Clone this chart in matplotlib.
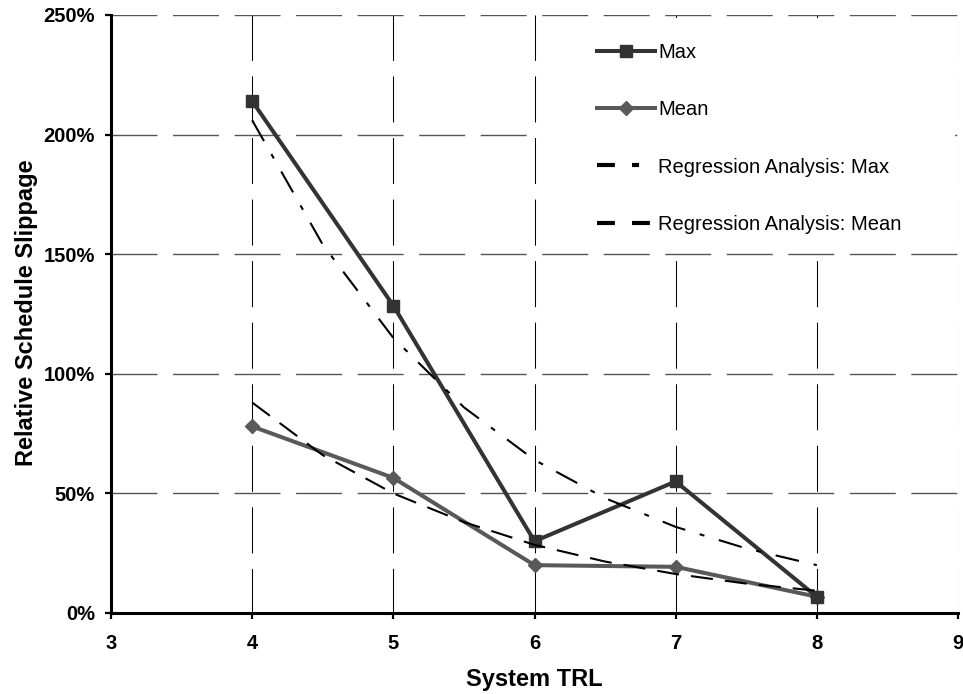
import matplotlib
matplotlib.use("Agg")
import matplotlib.pyplot as plt
from matplotlib.ticker import FuncFormatter
from matplotlib.lines import Line2D
from matplotlib.patches import Rectangle

plt.rcParams['font.family'] = ['Liberation Sans', 'DejaVu Sans']

trl = [4, 5, 6, 7, 8]
max_vals = [214, 128.5, 30, 55, 6.8]
mean_vals = [78, 56.5, 20, 19.3, 6.8]

reg_x = [4, 4.5, 5, 5.5, 6, 6.5, 7, 7.5, 8]
reg_max = [206, 154, 115, 86, 64, 48, 36, 27, 20]
reg_mean = [88, 66, 50, 38, 28.5, 21.5, 16.3, 12.3, 9.3]

x_ticks = [3, 4, 5, 6, 7, 8, 9]
y_ticks = [0, 50, 100, 150, 200, 250]

W, H = 963, 694
fig = plt.figure(figsize=(W / 100, H / 100), dpi=100)
ax = fig.add_axes([111 / W, 1 - 613 / H, (958 - 111) / W, (613 - 15) / H])

ax.set_xlim(3, 9)
ax.set_ylim(0, 250)
ax.set_xticks(x_ticks)
ax.set_yticks(y_ticks)
ax.yaxis.set_major_formatter(FuncFormatter(lambda v, p: f"{int(v)}%"))

# gridlines: long dashes (~46px dash, ~15px gap)
ax.set_axisbelow(True)
ax.yaxis.grid(True, color='#555555', linewidth=1.0, linestyle=(0, (33.1, 11.2)))
ax.xaxis.grid(True, color='black', linewidth=0.75, linestyle=(1.4, (44.2, 14.9)))

for s in ['top', 'right']:
    ax.spines[s].set_visible(False)
for s in ['left', 'bottom']:
    ax.spines[s].set_linewidth(2.2)

ax.tick_params(axis='both', direction='out', length=4.5, width=1.6, labelsize=14.5, pad=7)
ax.tick_params(axis='x', pad=10.5)
for lab in ax.get_xticklabels() + ax.get_yticklabels():
    lab.set_fontweight('bold')

# white legend background
ax.add_patch(Rectangle((0.5065, 0.607), 0.49, 0.388, transform=ax.transAxes,
                       facecolor='white', edgecolor='none', zorder=1))

ax.plot(trl, max_vals, color='#333333', lw=2.9, marker='s', markersize=8.6, zorder=4)
ax.plot(trl, mean_vals, color='#595959', lw=2.9, marker='D', markersize=7.5, zorder=3)
ax.plot(reg_x, reg_max, color='black', lw=1.5, linestyle=(0, (11.5, 7.2, 2.4, 7.2)), zorder=5)
ax.plot(reg_x, reg_mean, color='black', lw=1.5, linestyle=(0, (10.6, 5.8)), zorder=5)

ax.set_xlabel('System TRL', fontsize=17, fontweight='bold')
ax.xaxis.set_label_coords((534 - 111) / 847, -(668 - 613) / 598)
ax.set_ylabel('Relative Schedule Slippage', fontsize=17, fontweight='bold')
ax.yaxis.set_label_coords(-(111 - 38) / 847, (613 - 313) / 598)

handles = [
    Line2D([], [], color='#333333', lw=2.9, marker='s', markersize=8.6),
    Line2D([], [], color='#595959', lw=2.9, marker='D', markersize=7.5),
    Line2D([], [], color='black', lw=3, linestyle=(0, (4.3, 4.1, 1.7, 30))),
    Line2D([], [], color='black', lw=3, linestyle=(0, (4.3, 4.1))),
]
labels = ['Max', 'Mean', 'Regression Analysis: Max', 'Regression Analysis: Mean']
leg = ax.legend(handles, labels, loc='upper left',
                bbox_to_anchor=(597 / W, 1 - 43 / H), bbox_transform=fig.transFigure,
                frameon=False, fontsize=14.5, labelspacing=1.9,
                handlelength=2.9, handletextpad=0.15, borderpad=0, borderaxespad=0)
leg.set_zorder(6)

fig.savefig('out.png', dpi=100)
